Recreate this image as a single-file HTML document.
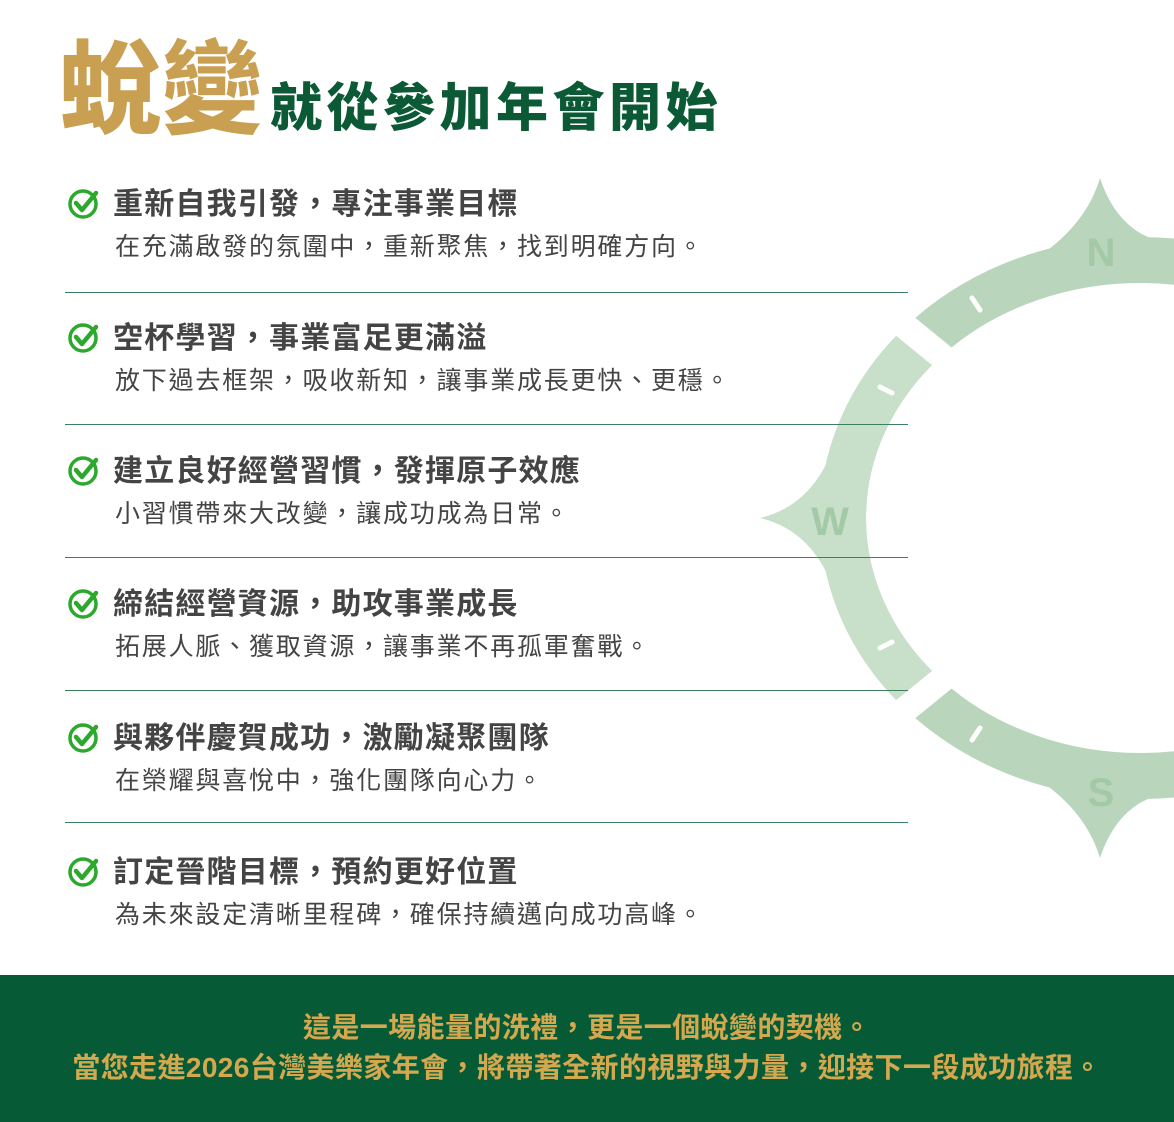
<!DOCTYPE html>
<html><head><meta charset="utf-8"><style>
html,body{margin:0;padding:0}
body{width:1174px;height:1122px;position:relative;background:#fff;overflow:hidden;font-family:"Liberation Sans","Noto Sans CJK TC",sans-serif}
.abs{position:absolute;white-space:nowrap}
.t1{left:60px;top:26px;font-size:101px;font-weight:900;color:#c9a052;letter-spacing:1px;line-height:130px}
.t2{left:270px;top:74px;font-size:52px;font-weight:900;color:#0b5a35;letter-spacing:4.5px;line-height:70px}
.h{left:113px;font-size:30px;font-weight:700;color:#444;line-height:40px;letter-spacing:1.2px}
.s{left:115px;font-size:25px;color:#444;line-height:34px;letter-spacing:1.8px}
.hr{position:absolute;left:65px;width:843px;height:1px;background:#3d7f60}
.ck{position:absolute;left:67px;width:32px;height:32px}
.foot{position:absolute;left:0;top:975px;width:1174px;height:147px;background:#075a36}
.f{width:1174px;left:0;text-align:center;font-size:28px;font-weight:700;color:#d4a84f;line-height:40px;letter-spacing:0.4px}
</style></head><body>
<svg class="abs" style="left:0;top:0" width="1174" height="1122">
 <ellipse cx="1140" cy="518" rx="297" ry="258" fill="none" stroke="#b9d5bb" stroke-width="46"/>
 <path d="M925,340 A297 258 0 0 0 925 696" fill="none" stroke="#c8dfc9" stroke-width="46"/>
 <g fill="#b9d5bb">
  <path d="M990,282 Q1080,245 1100,178 Q1120,238 1174,244 L1174,272 L990,292 Z"/>
  <path d="M990,754 Q1080,791 1100,858 Q1120,798 1174,792 L1174,764 L990,744 Z"/>
 </g>
 <path d="M836,440 Q815,505 760,518 Q815,531 836,596 L850,596 L850,440 Z" fill="#c8dfc9"/>
 <g stroke="#fff" stroke-width="26">
  <line x1="1140" y1="518" x2="890" y2="314"/>
  <line x1="1140" y1="518" x2="890" y2="722"/>
 </g>
 <g stroke="#fff" stroke-width="5" stroke-linecap="round">
  <line x1="972" y1="298" x2="980" y2="310"/>
  <line x1="880" y1="387" x2="892" y2="393"/>
  <line x1="880" y1="648" x2="892" y2="642"/>
  <line x1="972" y1="740" x2="980" y2="728"/>
 </g>
 <g font-family="Liberation Sans,sans-serif" font-weight="700" fill="#a3c9a6" font-size="40" text-anchor="middle">
  <text x="1101" y="266">N</text><text x="830" y="535">W</text><text x="1101" y="806">S</text>
 </g>
</svg>
<div class="abs t1">蛻變</div>
<div class="abs t2">就從參加年會開始</div>

<svg class="ck" style="top:188px" viewBox="0 0 32 32"><circle cx="16" cy="16" r="13" fill="none" stroke="#2ca82c" stroke-width="3.5"/><path d="M9 15 L15 22 L29 5" fill="none" stroke="#2ca82c" stroke-width="4.5" stroke-linecap="round" stroke-linejoin="round"/></svg>
<div class="abs h" style="top:185px">重新自我引發，專注事業目標</div>
<div class="abs s" style="top:230px">在充滿啟發的氛圍中，重新聚焦，找到明確方向。</div>
<div class="hr" style="top:292px"></div>

<svg class="ck" style="top:322px" viewBox="0 0 32 32"><circle cx="16" cy="16" r="13" fill="none" stroke="#2ca82c" stroke-width="3.5"/><path d="M9 15 L15 22 L29 5" fill="none" stroke="#2ca82c" stroke-width="4.5" stroke-linecap="round" stroke-linejoin="round"/></svg>
<div class="abs h" style="top:319px">空杯學習，事業富足更滿溢</div>
<div class="abs s" style="top:364px">放下過去框架，吸收新知，讓事業成長更快、更穩。</div>
<div class="hr" style="top:424px"></div>

<svg class="ck" style="top:455px" viewBox="0 0 32 32"><circle cx="16" cy="16" r="13" fill="none" stroke="#2ca82c" stroke-width="3.5"/><path d="M9 15 L15 22 L29 5" fill="none" stroke="#2ca82c" stroke-width="4.5" stroke-linecap="round" stroke-linejoin="round"/></svg>
<div class="abs h" style="top:452px">建立良好經營習慣，發揮原子效應</div>
<div class="abs s" style="top:497px">小習慣帶來大改變，讓成功成為日常。</div>
<div class="hr" style="top:557px"></div>

<svg class="ck" style="top:588px" viewBox="0 0 32 32"><circle cx="16" cy="16" r="13" fill="none" stroke="#2ca82c" stroke-width="3.5"/><path d="M9 15 L15 22 L29 5" fill="none" stroke="#2ca82c" stroke-width="4.5" stroke-linecap="round" stroke-linejoin="round"/></svg>
<div class="abs h" style="top:585px">締結經營資源，助攻事業成長</div>
<div class="abs s" style="top:630px">拓展人脈、獲取資源，讓事業不再孤軍奮戰。</div>
<div class="hr" style="top:690px"></div>

<svg class="ck" style="top:722px" viewBox="0 0 32 32"><circle cx="16" cy="16" r="13" fill="none" stroke="#2ca82c" stroke-width="3.5"/><path d="M9 15 L15 22 L29 5" fill="none" stroke="#2ca82c" stroke-width="4.5" stroke-linecap="round" stroke-linejoin="round"/></svg>
<div class="abs h" style="top:719px">與夥伴慶賀成功，激勵凝聚團隊</div>
<div class="abs s" style="top:764px">在榮耀與喜悅中，強化團隊向心力。</div>
<div class="hr" style="top:822px"></div>

<svg class="ck" style="top:856px" viewBox="0 0 32 32"><circle cx="16" cy="16" r="13" fill="none" stroke="#2ca82c" stroke-width="3.5"/><path d="M9 15 L15 22 L29 5" fill="none" stroke="#2ca82c" stroke-width="4.5" stroke-linecap="round" stroke-linejoin="round"/></svg>
<div class="abs h" style="top:853px">訂定晉階目標，預約更好位置</div>
<div class="abs s" style="top:898px">為未來設定清晰里程碑，確保持續邁向成功高峰。</div>

<div class="foot"></div>
<div class="abs f" style="top:1008px">這是一場能量的洗禮，更是一個蛻變的契機。</div>
<div class="abs f" style="top:1048px">當您走進2026台灣美樂家年會，將帶著全新的視野與力量，迎接下一段成功旅程。</div>
</body></html>
